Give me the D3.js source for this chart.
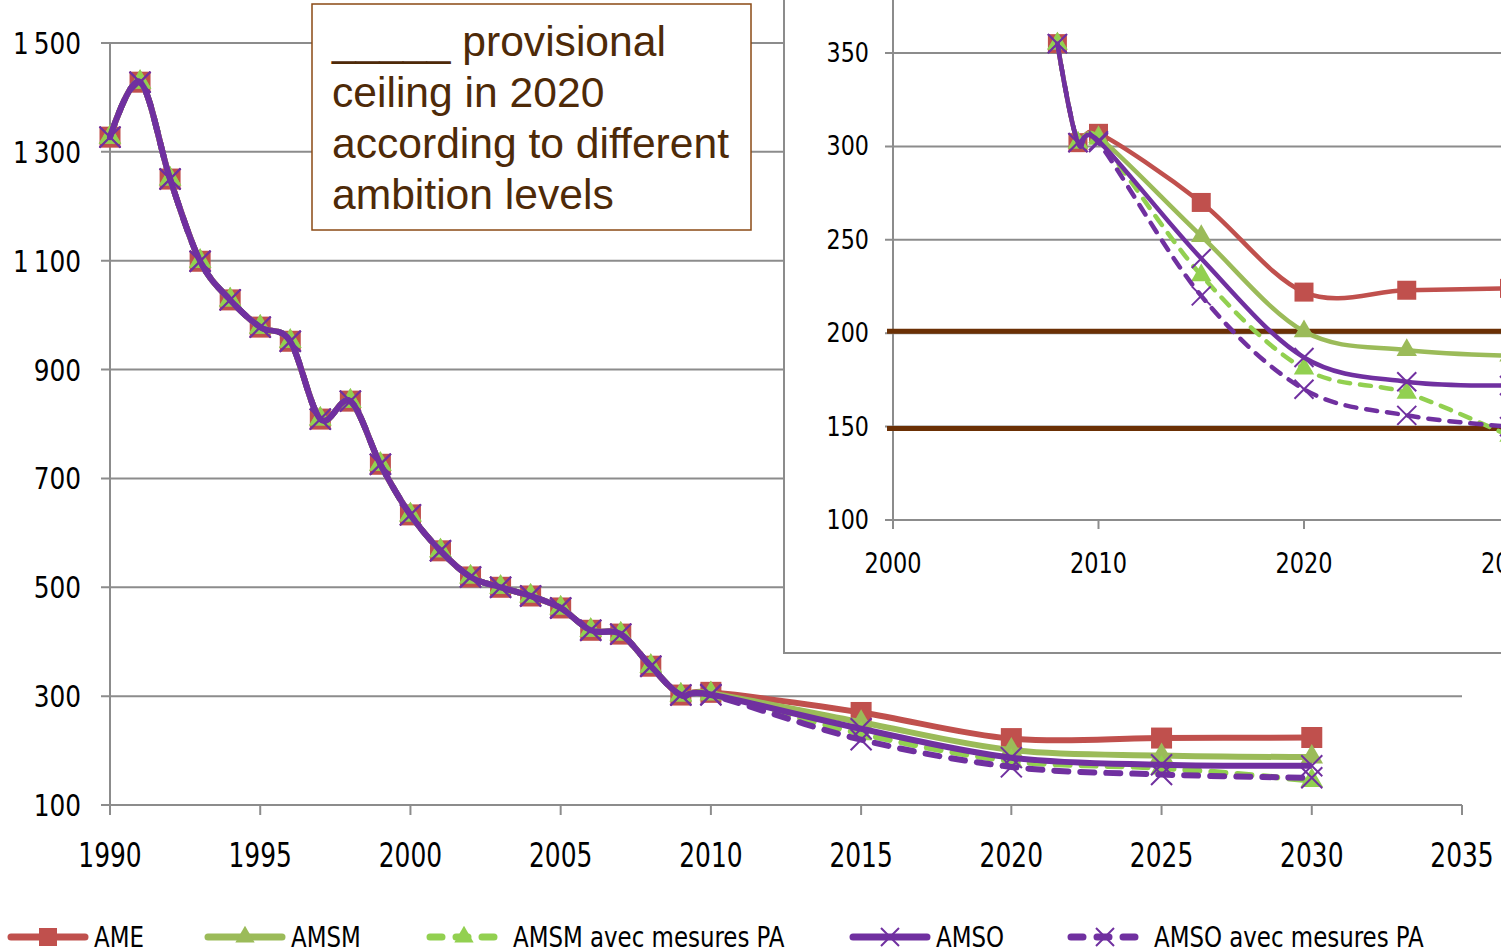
<!DOCTYPE html>
<html>
<head>
<meta charset="utf-8">
<script src="https://cdn.jsdelivr.net/npm/d3@7"></script>
<style>
  body { margin: 0; background: #fff; }
  svg { display: block; }
  text { font-family: "Liberation Sans Narrow", "DejaVu Sans Condensed", sans-serif; fill: #000; }
</style>
</head>
<body>
<script>
// years: 1990-2009 yearly (history), then scenario points
const years = [1990, 1991, 1992, 1993, 1994, 1995, 1996, 1997, 1998, 1999,
               2000, 2001, 2002, 2003, 2004, 2005, 2006, 2007, 2008, 2009,
               2010, 2015, 2020, 2025, 2030];
const history = [1327, 1428, 1250, 1099, 1028, 978, 952, 809, 842, 726,
                 633, 567, 519, 500, 484, 462, 421, 414, 355, 302];

// projections for 2010, 2015, 2020, 2025, 2030
const ame     = [307, 270, 222, 223, 224];
const amsm    = [305, 252, 201, 191, 188];
const amsmPA  = [304, 231, 181, 168, 145];
const amso    = [303, 240, 187, 174, 172];
const amsoPA  = [302, 220, 170, 156, 150];

const seriesNames = ["AME", "AMSM", "AMSM avec mesures PA", "AMSO", "AMSO avec mesures PA"];
const ceilings = [201, 149];

const mainYTicks = [100, 300, 500, 700, 900, 1100, 1300, 1500];
const mainXTicks = [1990, 1995, 2000, 2005, 2010, 2015, 2020, 2025, 2030, 2035];
const insetYTicks = [100, 150, 200, 250, 300, 350];
const insetXTicks = [2000, 2010, 2020, 2030];

const styles = [
  {color: "#C0504D", marker: "square", dash: null},
  {color: "#9BBB59", marker: "triangle", dash: null},
  {color: "#92D050", marker: "triangle", dash: "dash"},
  {color: "#7030A0", marker: "x", dash: null},
  {color: "#7030A0", marker: "x", dash: "dash"}
];

const series = [ame, amsm, amsmPA, amso, amsoPA].map((proj, i) => ({
  name: seriesNames[i],
  style: styles[i],
  values: years.map((y, j) => ({year: y, value: j < history.length ? history[j] : proj[j - history.length]}))
}));

const W = 1501, H = 951;
const svg = d3.select("body").append("svg").attr("width", W).attr("height", H);

const gridColor = "#8c8c8c";

// narrow text: the original font is a condensed one
function label(g, data, fx, fy, size, sx, anchor, fmt) {
  g.selectAll("text").data(data).join("text")
    .attr("transform", d => `translate(${fx(d)},${fy(d)}) scale(${sx},1)`)
    .attr("text-anchor", anchor)
    .style("font-size", size + "px")
    .text(fmt);
}

function marker(g, type, color, size) {
  if (type === "square") {
    return g.append("rect").attr("x", -size / 2).attr("y", -size / 2)
      .attr("width", size).attr("height", size).attr("fill", color);
  }
  if (type === "triangle") {
    return g.append("path").attr("d", d3.symbol().type(d3.symbolTriangle).size(size * size * 0.5)())
      .attr("fill", color);
  }
  const h = size / 2;
  return g.append("path").attr("d", `M${-h},${-h}L${h},${h}M${-h},${h}L${h},${-h}`)
    .attr("stroke", color).attr("stroke-width", 2).attr("fill", "none");
}

// ---------- main chart ----------
const x = d3.scaleLinear().domain([1990, 2035]).range([110, 1462]);
const y = d3.scaleLinear().domain([100, 1500]).range([805, 43]);

svg.append("g").selectAll("line").data(mainYTicks).join("line")
  .attr("x1", 101).attr("x2", d => d <= 300 ? 1462 : 784)
  .attr("y1", d => y(d)).attr("y2", d => y(d))
  .attr("stroke", gridColor).attr("stroke-width", 2);

svg.append("line").attr("x1", x(1990)).attr("x2", x(1990)).attr("y1", y(1500)).attr("y2", y(100))
  .attr("stroke", gridColor).attr("stroke-width", 2);

svg.append("g").selectAll("line").data(mainXTicks).join("line")
  .attr("x1", d => x(d)).attr("x2", d => x(d)).attr("y1", 805).attr("y2", 815)
  .attr("stroke", gridColor).attr("stroke-width", 2);

label(svg.append("g"), mainYTicks, () => 81, d => y(d) + 11, 30, 0.92, "end",
  d => d3.format(",")(d).replace(",", "\u2009"));
label(svg.append("g"), mainXTicks, d => x(d), () => 867, 33, 0.84, "middle", d => d);

function drawSeries(g, xs, ys, data, lw, msize, dash) {
  const line = d3.line().x(d => xs(d.year)).y(d => ys(d.value)).curve(d3.curveCatmullRom.alpha(0));
  data.forEach(s => {
    g.append("path").datum(s.values).attr("d", line)
      .attr("fill", "none").attr("stroke", s.style.color).attr("stroke-width", lw)
      .attr("stroke-linecap", s.style.dash ? "round" : "butt")
      .attr("stroke-linejoin", "round")
      .attr("stroke-dasharray", s.style.dash ? dash : null);
    s.values.forEach(v => {
      const m = g.append("g").attr("transform", `translate(${xs(v.year)},${ys(v.value)})`);
      marker(m, s.style.marker, s.style.color, msize);
    });
  });
}

drawSeries(svg.append("g"), x, y, series, 6, 21, "14,12");

// ---------- text box ----------
const box = svg.append("g");
box.append("rect").attr("x", 312).attr("y", 4).attr("width", 439).attr("height", 226)
  .attr("fill", "#fff").attr("stroke", "#8B4A14").attr("stroke-width", 1.5);
const boxLines = ["_____ provisional", "ceiling in 2020", "according to different", "ambition levels"];
box.selectAll("text").data(boxLines).join("text")
  .attr("x", 332).attr("y", (d, i) => 56 + i * 51)
  .style("font-family", "'Liberation Sans', Arial, sans-serif")
  .style("font-size", "42.6px").style("fill", "#4E2A08")
  .text(d => d);

// ---------- inset ----------
const inset = svg.append("g");
inset.append("rect").attr("x", 784).attr("y", -10).attr("width", 740).attr("height", 663)
  .attr("fill", "#fff").attr("stroke", gridColor).attr("stroke-width", 2);

const xi = d3.scaleLinear().domain([2000, 2030]).range([893, 1509.5]);
const yi = d3.scaleLinear().domain([100, 350]).range([520, 53]);

inset.append("g").selectAll("line").data(insetYTicks).join("line")
  .attr("x1", 885).attr("x2", W).attr("y1", d => yi(d)).attr("y2", d => yi(d))
  .attr("stroke", gridColor).attr("stroke-width", 2);
inset.append("line").attr("x1", 893).attr("x2", 893).attr("y1", 0).attr("y2", 520)
  .attr("stroke", gridColor).attr("stroke-width", 2);
inset.append("g").selectAll("line").data(insetXTicks).join("line")
  .attr("x1", d => xi(d)).attr("x2", d => xi(d)).attr("y1", 520).attr("y2", 529)
  .attr("stroke", gridColor).attr("stroke-width", 2);

inset.append("g").selectAll("line").data(ceilings).join("line")
  .attr("x1", 887).attr("x2", W).attr("y1", d => yi(d)).attr("y2", d => yi(d))
  .attr("stroke", "#6B3005").attr("stroke-width", 5);

label(inset.append("g"), insetYTicks, () => 869, d => yi(d) + 9, 26, 0.95, "end", d => d);
label(inset.append("g"), insetXTicks, d => xi(d), () => 573, 29, 0.86, "middle", d => d);

const insetSeries = series.map(s => ({...s, values: s.values.filter(v => v.year >= 2008)}));
drawSeries(inset.append("g"), xi, yi, insetSeries, 4.5, 19, "11,10");

// ---------- legend ----------
const legendX = [8, 205, 427, 850, 1068];
const legend = svg.append("g");
series.forEach((s, i) => {
  const g = legend.append("g").attr("transform", `translate(${legendX[i]},937)`);
  if (s.style.dash) {
    g.append("line").attr("x1", 3).attr("x2", 73).attr("y1", 0).attr("y2", 0)
      .attr("stroke", s.style.color).attr("stroke-width", 7).attr("stroke-linecap", "round")
      .attr("stroke-dasharray", "12,14");
  } else {
    g.append("line").attr("x1", 3).attr("x2", 77).attr("y1", 0).attr("y2", 0)
      .attr("stroke", s.style.color).attr("stroke-width", 7).attr("stroke-linecap", "round");
  }
  const m = g.append("g").attr("transform", `translate(${s.style.dash ? 37 : 40},0)`);
  marker(m, s.style.marker, s.style.color, 18);
  g.append("text").attr("transform", "translate(86,10) scale(0.91,1)")
    .style("font-size", "28px").text(s.name);
});
</script>
</body>
</html>
